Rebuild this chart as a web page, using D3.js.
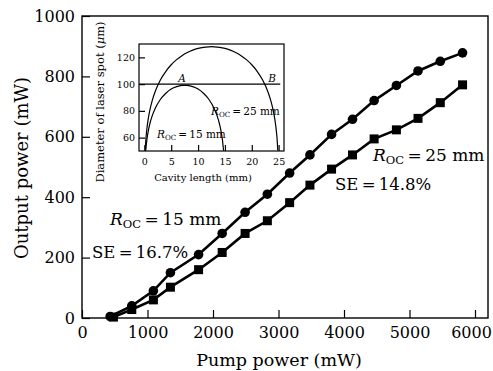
<!DOCTYPE html>
<html>
<head>
<meta charset="utf-8">
<script src="https://cdn.jsdelivr.net/npm/d3@7/dist/d3.min.js"></script>
<style>
  body { margin: 0; background: #fff; }
</style>
</head>
<body>
<svg id="chart" width="493" height="371"></svg>
<script>
// main chart data
var pump = [430, 760, 1090, 1350, 1780, 2140, 2490, 2830, 3170, 3480, 3810, 4130, 4460, 4800, 5130, 5470, 5810]
var pump25 = [480, 760, 1090, 1350, 1780, 2140, 2490, 2830, 3170, 3480, 3810, 4130, 4460, 4800, 5130, 5470, 5810]
var out15 = [5, 40, 90, 150, 210, 280, 350, 410, 480, 540, 608, 658, 720, 770, 818, 850, 878]
var out25 = [3, 28, 60, 102, 160, 217, 280, 322, 382, 440, 493, 540, 593, 623, 661, 713, 772]
var xTicks = [0, 1000, 2000, 3000, 4000, 5000, 6000]
var yTicks = [0, 200, 400, 600, 800, 1000]

// inset data: spot diameter vs cavity length
var len25 = [0.15, 0.3, 0.5, 0.75, 1, 1.5, 2, 3, 4, 5, 6, 7, 8, 9, 10, 11, 12, 12.5, 13, 14, 15, 16, 17, 18, 19, 20, 21, 22, 23, 23.5, 24, 24.25, 24.5, 24.7, 24.85]
var dia25 = [50.3, 59.7, 67.7, 74.8, 80.1, 88.2, 94.3, 103.2, 109.6, 114.5, 118.3, 121.3, 123.6, 125.4, 126.7, 127.5, 127.9, 128.0, 127.9, 127.5, 126.7, 125.4, 123.6, 121.3, 118.3, 114.5, 109.6, 103.2, 94.3, 88.2, 80.1, 74.8, 67.7, 59.7, 50.3]
var len15 = [0.25, 0.5, 0.75, 1, 1.5, 2, 3, 4, 5, 6, 7, 7.5, 8, 9, 10, 11, 12, 13, 13.5, 14, 14.25, 14.5, 14.75]
var dia15 = [50.2, 59.4, 65.5, 70.0, 76.8, 81.7, 88.7, 93.2, 96.3, 98.1, 99.0, 99.1, 99.0, 98.1, 96.3, 93.2, 88.7, 81.7, 76.8, 70.0, 65.5, 59.4, 50.2]
var insetXTicks = [0, 5, 10, 15, 20, 25]
var insetYTicks = [60, 80, 100, 120]
var refLevel = 100

var FONT = "'DejaVu Serif', serif"

var svg = d3.select("#chart")
  .attr("font-family", FONT)
  .style("font-family", FONT)

var x = d3.scaleLinear().domain([0, 6000]).range([82, 475])
var y = d3.scaleLinear().domain([0, 1000]).range([318, 16])

// frame
svg.append("rect")
  .attr("x", 82).attr("y", 16)
  .attr("width", 406).attr("height", 302)
  .attr("fill", "none").attr("stroke", "#000").attr("stroke-width", 1.4)

function styleAxis(g, size) {
  g.attr("font-family", FONT)
  g.select(".domain").remove()
  g.selectAll("line").attr("stroke-width", 1.2)
  g.selectAll("text").attr("font-size", size).style("font-family", FONT)
}

var xAxis = svg.append("g")
  .attr("transform", "translate(0,318)")
  .call(d3.axisBottom(x).tickValues(xTicks).tickFormat(d3.format("d"))
    .tickSizeInner(-8).tickSizeOuter(0).tickPadding(9))
styleAxis(xAxis, 16)
// last label sits a little left so it stays inside the picture
xAxis.selectAll(".tick").filter(d => d === 6000).select("text").attr("x", -4)

var yAxis = svg.append("g")
  .attr("transform", "translate(82,0)")
  .call(d3.axisLeft(y).tickValues(yTicks).tickFormat(d3.format("d"))
    .tickSizeInner(-8).tickSizeOuter(0).tickPadding(7))
styleAxis(yAxis, 16)

svg.append("text")
  .attr("x", 279).attr("y", 366)
  .attr("text-anchor", "middle")
  .attr("font-size", 17.5)
  .text("Pump power (mW)")

svg.append("text")
  .attr("transform", "translate(28,168)rotate(-90)")
  .attr("text-anchor", "middle")
  .attr("font-size", 18)
  .text("Output power (mW)")

// series
var line = d3.line().x(d => x(d[0])).y(d => y(d[1]))
var s15 = pump.map((p, i) => [p, out15[i]])
var s25 = pump25.map((p, i) => [p, out25[i]])

svg.append("path").datum(s25)
  .attr("d", line).attr("fill", "none").attr("stroke", "#000").attr("stroke-width", 2.6)
svg.append("path").datum(s15)
  .attr("d", line).attr("fill", "none").attr("stroke", "#000").attr("stroke-width", 2.6)

svg.selectAll(".sq").data(s25).enter()
  .append("rect")
  .attr("class", "sq")
  .attr("x", d => x(d[0]) - 4.5).attr("y", d => y(d[1]) - 4.5)
  .attr("width", 9).attr("height", 9)
  .attr("fill", "#000")

svg.selectAll(".dot").data(s15).enter()
  .append("circle")
  .attr("class", "dot")
  .attr("cx", d => x(d[0])).attr("cy", d => y(d[1]))
  .attr("r", 4.8)
  .attr("fill", "#000")

// R_OC label helper
function rocLabel(g, px, py, size, rest) {
  var t = g.append("text").attr("x", px).attr("y", py).attr("font-size", size)
  t.append("tspan").attr("font-style", "italic").text("R")
  t.append("tspan").attr("font-size", size * 0.68).attr("dy", size * 0.2).text("OC")
  t.append("tspan").attr("dy", -size * 0.2).text("\u2009=\u2009" + rest)
  return t
}

rocLabel(svg, 110, 225, 17, "15 mm")
svg.append("text").attr("x", 92).attr("y", 258).attr("font-size", 16.5).text("SE\u2009=\u200916.7%")
rocLabel(svg, 373, 161, 17, "25 mm")
svg.append("text").attr("x", 335).attr("y", 190).attr("font-size", 16.5).text("SE\u2009=\u200914.8%")

// inset
var ix = d3.scaleLinear().domain([-1, 26]).range([139, 284])
var iy = d3.scaleLinear().domain([50, 130]).range([151, 44])
var inset = svg.append("g")

inset.append("rect")
  .attr("x", 139).attr("y", 44)
  .attr("width", 145).attr("height", 107)
  .attr("fill", "#fff").attr("stroke", "#000").attr("stroke-width", 1.2)

inset.append("clipPath").attr("id", "insetClip")
  .append("rect").attr("x", 139).attr("y", 44).attr("width", 145).attr("height", 107)

var ixAxis = inset.append("g")
  .attr("transform", "translate(0,151)")
  .call(d3.axisBottom(ix).tickValues(insetXTicks).tickSizeInner(-6).tickSizeOuter(0).tickPadding(7))
styleAxis(ixAxis, 9.5)

var iyAxis = inset.append("g")
  .attr("transform", "translate(139,0)")
  .call(d3.axisLeft(iy).tickValues(insetYTicks).tickSizeInner(-6).tickSizeOuter(0).tickPadding(4))
styleAxis(iyAxis, 9.5)

inset.append("text")
  .attr("x", 203).attr("y", 181)
  .attr("text-anchor", "middle")
  .attr("font-size", 10)
  .text("Cavity length (mm)")

var yl = inset.append("text")
  .attr("transform", "translate(104,102)rotate(-90)")
  .attr("text-anchor", "middle")
  .attr("font-size", 11.5)
yl.append("tspan").text("Diameter of laser spot (")
yl.append("tspan").attr("font-style", "italic").text("\u03bc")
yl.append("tspan").text("m)")

var iline = d3.line().x(d => ix(d[0])).y(d => iy(d[1])).curve(d3.curveMonotoneX)
var curves = inset.append("g").attr("clip-path", "url(#insetClip)")
curves.append("path").datum(len25.map((l, i) => [l, dia25[i]]))
  .attr("d", iline).attr("fill", "none").attr("stroke", "#000").attr("stroke-width", 1.2)
curves.append("path").datum(len15.map((l, i) => [l, dia15[i]]))
  .attr("d", iline).attr("fill", "none").attr("stroke", "#000").attr("stroke-width", 1.2)
curves.append("line")
  .attr("x1", ix(-1)).attr("x2", ix(25.3))
  .attr("y1", iy(refLevel)).attr("y2", iy(refLevel))
  .attr("stroke", "#000").attr("stroke-width", 1.2)

inset.append("text").attr("x", 182).attr("y", 82).attr("text-anchor", "middle")
  .attr("font-size", 10.5).attr("font-style", "italic").text("A")
inset.append("text").attr("x", 272).attr("y", 82).attr("text-anchor", "middle")
  .attr("font-size", 10.5).attr("font-style", "italic").text("B")

rocLabel(inset, 211, 115, 10.5, "25 mm")
rocLabel(inset, 157, 137.5, 10.5, "15 mm")
</script>
</body>
</html>
